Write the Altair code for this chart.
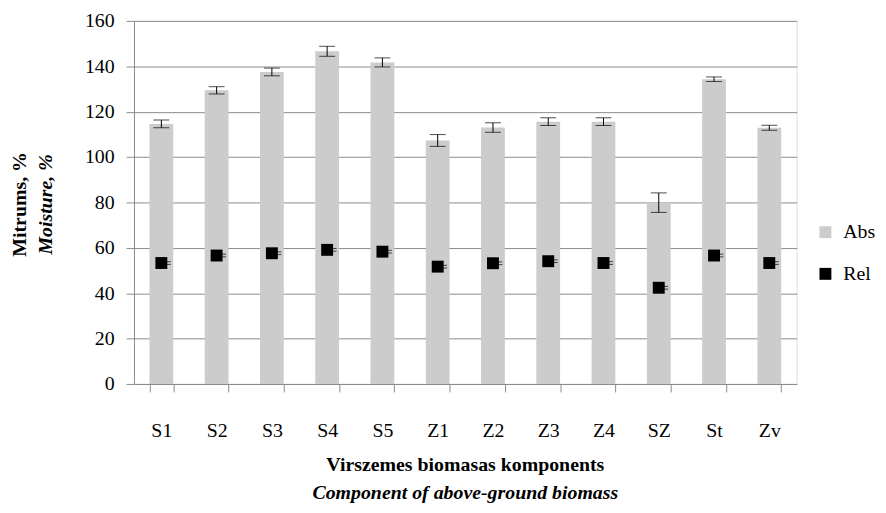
import altair as alt
import pandas as pd

categories = ["S1", "S2", "S3", "S4", "S5", "Z1", "Z2", "Z3", "Z4", "SZ", "St", "Zv"]
abs_values = [114.6, 129.4, 137.5, 146.6, 141.7, 107.3, 113.0, 115.6, 115.6, 79.9, 134.3, 112.9]
abs_errors = [1.7, 1.6, 1.7, 2.2, 2.0, 2.6, 2.1, 1.7, 1.7, 4.3, 1.0, 1.1]
rel_values = [53.3, 56.6, 57.6, 59.1, 58.3, 51.7, 53.2, 54.1, 53.3, 42.4, 56.6, 53.3]
rel_errors = [0.6, 0.6, 0.6, 0.6, 0.6, 0.6, 0.6, 0.6, 0.6, 0.6, 0.6, 0.6]
series_names = ["Abs", "Rel"]
series_colors = ["#cccccc", "#000000"]

FONT = "'Liberation Serif', 'Times New Roman', 'DejaVu Serif', serif"
GRID = "#8c8c8c"

df = pd.DataFrame({
    "cat": categories,
    "abs": abs_values,
    "abs_lo": [v - e for v, e in zip(abs_values, abs_errors)],
    "abs_hi": [v + e for v, e in zip(abs_values, abs_errors)],
    "rel": rel_values,
    "rel_lo": [v - e for v, e in zip(rel_values, rel_errors)],
    "rel_hi": [v + e for v, e in zip(rel_values, rel_errors)],
})

W, H = 668, 366

x_enc = alt.X(
    "cat:N", sort=categories, title=None,
    scale=alt.Scale(paddingInner=0.57, paddingOuter=0.28),
    axis=alt.Axis(
        labelAngle=0, labelFontSize=20, labelFont=FONT, labelColor="#000000",
        labelPadding=29, tickBand="extent", tickSize=8, tickColor=GRID,
        domainColor=GRID, grid=False,
    ),
)
y_scale = alt.Scale(domain=[0, 160], nice=False)
color_scale = alt.Scale(domain=series_names, range=series_colors)

base = alt.Chart(df)

bars = base.mark_bar().transform_calculate(s="'Abs'").encode(
    x=x_enc,
    y=alt.Y(
        "abs:Q", scale=y_scale, title=None,
        axis=alt.Axis(
            values=list(range(0, 161, 20)), labelFontSize=20, labelFont=FONT,
            labelColor="#000000", labelPadding=12, tickSize=8, tickColor=GRID,
            domainColor=GRID, gridColor=GRID, grid=True,
        ),
    ),
    color=alt.Color(
        "s:N", scale=color_scale, title=None,
        legend=alt.Legend(
            orient="none", legendX=687, legendY=203, symbolType="square",
            symbolSize=144, symbolStrokeWidth=0, labelFontSize=20, labelFont=FONT,
            labelColor="#000000", rowPadding=22, labelOffset=8, padding=0,
        ),
    ),
)

abs_rule = base.mark_rule(color="#000000", strokeWidth=1).encode(
    x=alt.X("cat:N", sort=categories), y="abs_lo:Q", y2="abs_hi:Q"
)
abs_cap_lo = base.mark_tick(color="#000000", size=16, thickness=1).encode(
    x=alt.X("cat:N", sort=categories), y="abs_lo:Q"
)
abs_cap_hi = base.mark_tick(color="#000000", size=16, thickness=1).encode(
    x=alt.X("cat:N", sort=categories), y="abs_hi:Q"
)

rel_cap_lo = base.mark_tick(color="#000000", size=11, thickness=1, xOffset=4).encode(
    x=alt.X("cat:N", sort=categories), y="rel_lo:Q"
)
rel_cap_hi = base.mark_tick(color="#000000", size=11, thickness=1, xOffset=4).encode(
    x=alt.X("cat:N", sort=categories), y="rel_hi:Q"
)

points = base.mark_square(size=144, opacity=1, filled=True).transform_calculate(
    s="'Rel'"
).encode(
    x=alt.X("cat:N", sort=categories),
    y="rel:Q",
    color=alt.Color("s:N", scale=color_scale, legend=None),
)

def txt(text, x, y, italic=False, angle=0):
    return alt.Chart(pd.DataFrame({"t": [text]})).mark_text(
        font=FONT, fontSize=20, fontWeight="bold",
        fontStyle="italic" if italic else "normal",
        angle=angle, align="center", baseline="middle", color="#000000",
    ).encode(text="t:N", x=alt.value(x), y=alt.value(y))

titles = [
    txt("Mitrums, %", -115, 185, angle=270),
    txt("Moisture, %", -89, 185, italic=True, angle=270),
    txt("Virszemes biomasas komponents", 334, 448),
    txt("Component of above-ground biomass", 334, 476, italic=True),
]

chart = alt.layer(
    bars, abs_rule, abs_cap_lo, abs_cap_hi, rel_cap_lo, rel_cap_hi, points, *titles
).properties(
    width=W, height=H,
    padding={"left": 127, "top": 11, "right": 82, "bottom": 118},
    autosize=alt.AutoSizeParams(type="none"),
).configure_view(stroke=None).configure(font=FONT, background="#ffffff")

chart.save("out.html", embed_options={"renderer": "svg", "actions": False})
